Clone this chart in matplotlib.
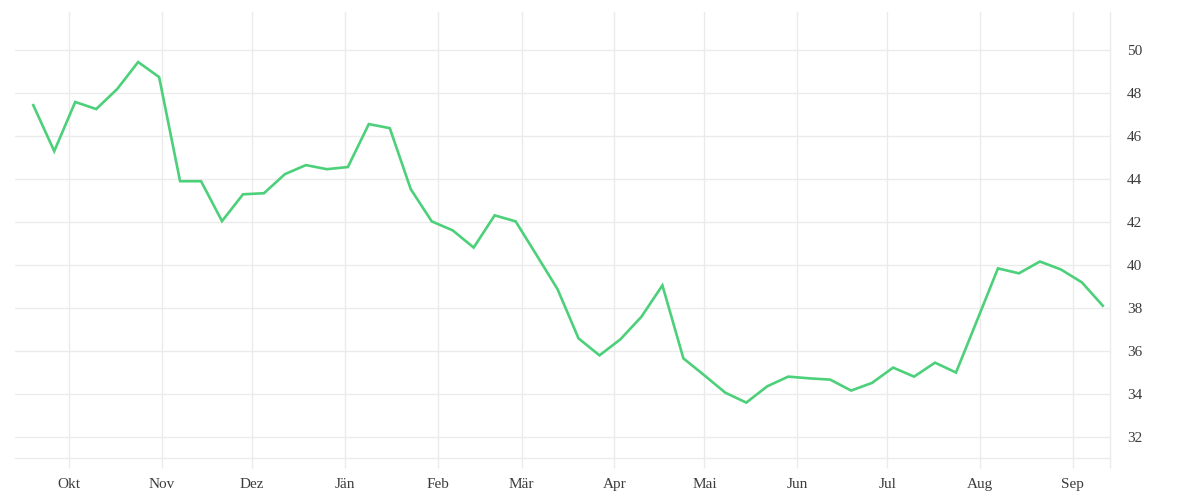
import matplotlib
matplotlib.use('Agg')
import matplotlib.pyplot as plt
import matplotlib.dates as mdates
import pandas as pd

# weekly values
start = '2022-09-19'
values = [47.43, 45.29, 47.58, 47.25, 48.18, 49.44, 48.74, 43.89, 43.89, 42.03,
          43.28, 43.33, 44.22, 44.64, 44.45, 44.55, 46.55, 46.36, 43.52, 42.02,
          41.60, 40.80, 42.30, 42.02, 40.45, 38.86, 36.57, 35.78, 36.53, 37.58,
          39.04, 35.64, 34.85, 34.04, 33.58, 34.34, 34.79, 34.71, 34.65, 34.14,
          34.50, 35.21, 34.79, 35.44, 34.98, 37.40, 39.83, 39.60, 40.15, 39.78,
          39.18, 38.09]
month_labels = ['Jän', 'Feb', 'Mär', 'Apr', 'Mai', 'Jun',
                'Jul', 'Aug', 'Sep', 'Okt', 'Nov', 'Dez']
y_ticks = [32, 34, 36, 38, 40, 42, 44, 46, 48, 50]

dates = pd.date_range(start, periods=len(values), freq='7D')

grid_col = '#ebebeb'
plt.rcParams['font.family'] = ['Liberation Serif', 'DejaVu Serif']

fig = plt.figure(figsize=(12, 5), dpi=100)
ax = fig.add_axes([0.0125, 0.084, 0.9125, 0.892])

ax.plot(dates, values, color='#4cd07a', lw=1.9, solid_joinstyle='miter', zorder=3)

ax.set_xlim(dates[0] - pd.Timedelta(days=6.1), dates[-1] + pd.Timedelta(days=2.4))
ax.set_ylim(31, 51.77)

ax.xaxis.set_major_locator(mdates.MonthLocator())
ax.xaxis.set_major_formatter(plt.FuncFormatter(
    lambda v, p: month_labels[mdates.num2date(v).month - 1]))
ax.set_xticks([ax.get_xlim()[1]], minor=True)
ax.tick_params(axis='x', which='both', length=7.4, color=grid_col, width=1,
               pad=7, labelsize=11, labelcolor='#3c3c3c')

ax.yaxis.tick_right()
ax.set_yticks(y_ticks)
ax.tick_params(axis='y', length=0, pad=12.3, labelsize=11, labelcolor='#3c3c3c')

ax.grid(True, color=grid_col, lw=1)
ax.set_axisbelow(True)
for side in ['top', 'left']:
    ax.spines[side].set_visible(False)
for side in ['bottom', 'right']:
    ax.spines[side].set_color(grid_col)
    ax.spines[side].set_linewidth(1)

fig.savefig('out.png', dpi=100)
